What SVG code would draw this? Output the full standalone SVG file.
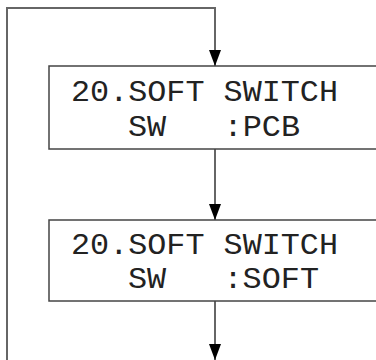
<svg xmlns="http://www.w3.org/2000/svg" width="376" height="360" viewBox="0 0 376 360">
<style>
.conn{fill:none;stroke:#666;stroke-width:2}
.box{fill:#fff;stroke:#444;stroke-width:1.5}
.lcd{font-family:"Liberation Mono","DejaVu Sans Mono",monospace;font-size:30px;fill:#222;white-space:pre}
</style>
<defs>
<marker id="ah" markerUnits="userSpaceOnUse" markerWidth="16" markerHeight="12" refX="16" refY="6" orient="auto" viewBox="0 0 16 12">
<path d="M0,0 L16,6 L0,12 z" fill="#000"/>
</marker>
</defs>
<g id="connectors">
<path class="conn" d="M7,360 V8 H215 V66" marker-end="url(#ah)"/>
<path class="conn" d="M215,149 V220" marker-end="url(#ah)"/>
<path class="conn" d="M215,301 V360" marker-end="url(#ah)"/>
</g>
<g id="node1">
<rect class="box" x="49" y="66" width="340" height="83"/>
<text class="lcd" x="71" y="101" textLength="267" lengthAdjust="spacingAndGlyphs">20.SOFT SWITCH</text>
<text class="lcd" xml:space="preserve" x="128" y="136" textLength="172" lengthAdjust="spacingAndGlyphs">SW   :PCB</text>
</g>
<g id="node2">
<rect class="box" x="49" y="220" width="340" height="81"/>
<text class="lcd" x="71" y="254" textLength="267" lengthAdjust="spacingAndGlyphs">20.SOFT SWITCH</text>
<text class="lcd" xml:space="preserve" x="128" y="288" textLength="191" lengthAdjust="spacingAndGlyphs">SW   :SOFT</text>
</g>
</svg>
